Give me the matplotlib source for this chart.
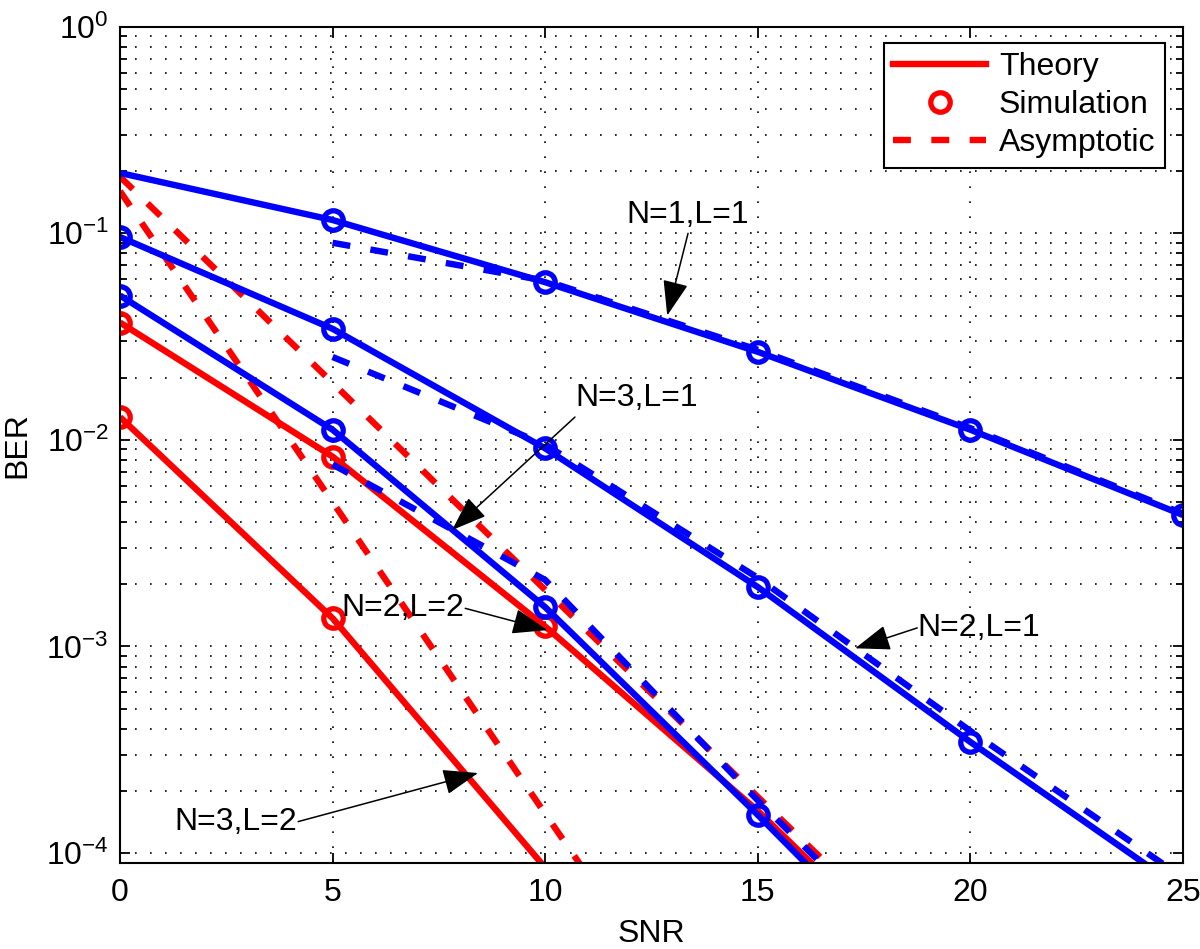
import numpy as np
import matplotlib
matplotlib.use('Agg')
import matplotlib.pyplot as plt
from matplotlib.lines import Line2D
from matplotlib.ticker import LogLocator, NullFormatter

plt.rcParams['font.family'] = ['Liberation Sans', 'DejaVu Sans']
plt.rcParams['mathtext.fontset'] = 'custom'
plt.rcParams['mathtext.rm'] = 'Liberation Sans'
plt.rcParams['mathtext.it'] = 'Liberation Sans'

nan = np.nan
snr = [0, 5, 10, 15, 20, 25]

# BER (L=1 azul, L=2 rojo)
n1l1_theory = [0.196, 0.116, 0.058, 0.0267, 0.0112, 0.00433]
n1l1_sim    = [nan,   0.116, 0.058, 0.0267, 0.0112, 0.00433]
n1l1_asym   = [nan,   0.090, 0.059, 0.0273, 0.0114, 0.0044]

n2l1_theory = [0.096, 0.0345, 0.0091, 0.00194, 0.000345, 6.6e-5]
n2l1_sim    = [0.096, 0.0345, 0.0091, 0.00194, 0.000345, nan]
n2l1_asym   = [nan,   0.0252, 0.0095, 0.00215, 0.00039, 7.6e-5]

n3l1_theory = [0.050, 0.0112, 0.00155, 0.000153, 1.4e-5, nan]
n3l1_sim    = [0.050, 0.0112, 0.00155, 0.000153, nan, nan]
n3l1_asym   = [nan,   0.0076, 0.0021, 0.00018, 1.7e-5, nan]

n2l2_theory = [0.037, 0.0083, 0.00125, 0.00016, 1.6e-5, nan]
n2l2_sim    = [0.037, 0.0083, 0.00125, nan, nan, nan]
n2l2_asym   = [0.188, 0.0189, 0.00188, 0.000187, 1.9e-5, nan]

n3l2_theory = [0.0129, 0.00137, 8.5e-5, nan, nan, nan]
n3l2_sim    = [0.0129, 0.00137, nan, nan, nan, nan]
n3l2_asym   = [0.16, 0.0050, 0.000155, 5e-6, nan, nan]

# etiquetas: texto, posicion del texto, cola y punta de la flecha
labels = [
    ('N=1,L=1', (13.34, 0.122), (13.36, 0.100), (12.87, 0.040)),
    ('N=3,L=1', (12.16, 0.0160), (10.70, 0.0129), (7.81, 0.00366)),
    ('N=2,L=2', (6.64, 0.00153), (8.12, 0.00153), (10.05, 0.00120)),
    ('N=2,L=1', (20.19, 0.00123), (18.75, 0.00123), (17.29, 0.00098)),
    ('N=3,L=2', (2.73, 0.000141), (4.19, 0.000142), (8.42, 0.000244)),
]

red = '#ff0000'
blue = '#0000ff'
lw = 4.6
dash = (2.8, 3.2)
ms = 14
mew = 3.8
fs = 23

fig = plt.figure(figsize=(12, 9.49), dpi=100)
ax = fig.add_axes([0.1, 0.0906, 0.8858, 0.8812])

series = [
    (n3l2_theory, n3l2_sim, n3l2_asym, red),
    (n2l2_theory, n2l2_sim, n2l2_asym, red),
    (n1l1_theory, n1l1_sim, n1l1_asym, blue),
    (n2l1_theory, n2l1_sim, n2l1_asym, blue),
    (n3l1_theory, n3l1_sim, n3l1_asym, blue),
]
for theo, sim, asym, c in series:
    ax.plot(snr, theo, color=c, lw=lw, solid_capstyle='butt')
    ax.plot(snr, asym, color=c, lw=lw, dashes=dash, dash_capstyle='butt')
    ax.plot(snr, sim, 'o', color=c, ms=ms, mew=mew, mfc='none')

ax.set_yscale('log')
ax.set_xlim(0, 25)
ax.set_ylim(8.95e-5, 1)
ax.set_xticks([0, 5, 10, 15, 20, 25])
ax.yaxis.set_major_locator(LogLocator(base=10, numticks=10))
ax.yaxis.set_minor_locator(LogLocator(base=10, subs=np.arange(2, 10), numticks=50))
ax.yaxis.set_minor_formatter(NullFormatter())

ax.tick_params(which='both', direction='in', top=True, right=True, width=1.3,
               labelsize=fs)
ax.tick_params(which='major', length=7)
ax.tick_params(which='minor', length=5)
ax.tick_params(axis='x', pad=11)
ax.tick_params(axis='y', pad=8)
for s in ax.spines.values():
    s.set_linewidth(1.5)

grid_ls = (0, (1, 8))
ax.grid(True, axis='x', which='major', color='k', lw=1.2, linestyle=grid_ls)
ax.grid(True, axis='y', which='both', color='k', lw=1.2, linestyle=grid_ls)
ax.set_axisbelow(True)

ax.set_xlabel('SNR', fontsize=fs, labelpad=8)
ax.set_ylabel('BER', fontsize=fs, labelpad=10)

for txt, pos, tail, tip in labels:
    ax.text(pos[0], pos[1], txt, fontsize=fs, ha='center', va='center')
    ax.annotate('', xy=tip, xytext=tail,
                arrowprops=dict(arrowstyle='-|>,head_length=1.1,head_width=0.4',
                                mutation_scale=20, color='k', lw=1.1,
                                shrinkA=0, shrinkB=0))

handles = [
    Line2D([], [], color=red, lw=lw),
    Line2D([], [], color=red, marker='o', ls='none', ms=ms, mew=mew, mfc='none'),
    Line2D([], [], color=red, lw=lw, dashes=dash),
]
leg = ax.legend(handles, ['Theory', 'Simulation', 'Asymptotic'],
                loc='upper right', bbox_to_anchor=(0.983, 0.981),
                borderaxespad=0, fontsize=fs, handlelength=2.9,
                handletextpad=0.4, labelspacing=0.25, borderpad=0.3,
                fancybox=False, framealpha=1)
leg.get_frame().set_edgecolor('k')
leg.get_frame().set_linewidth(1.5)

fig.savefig('out.png', dpi=100)
